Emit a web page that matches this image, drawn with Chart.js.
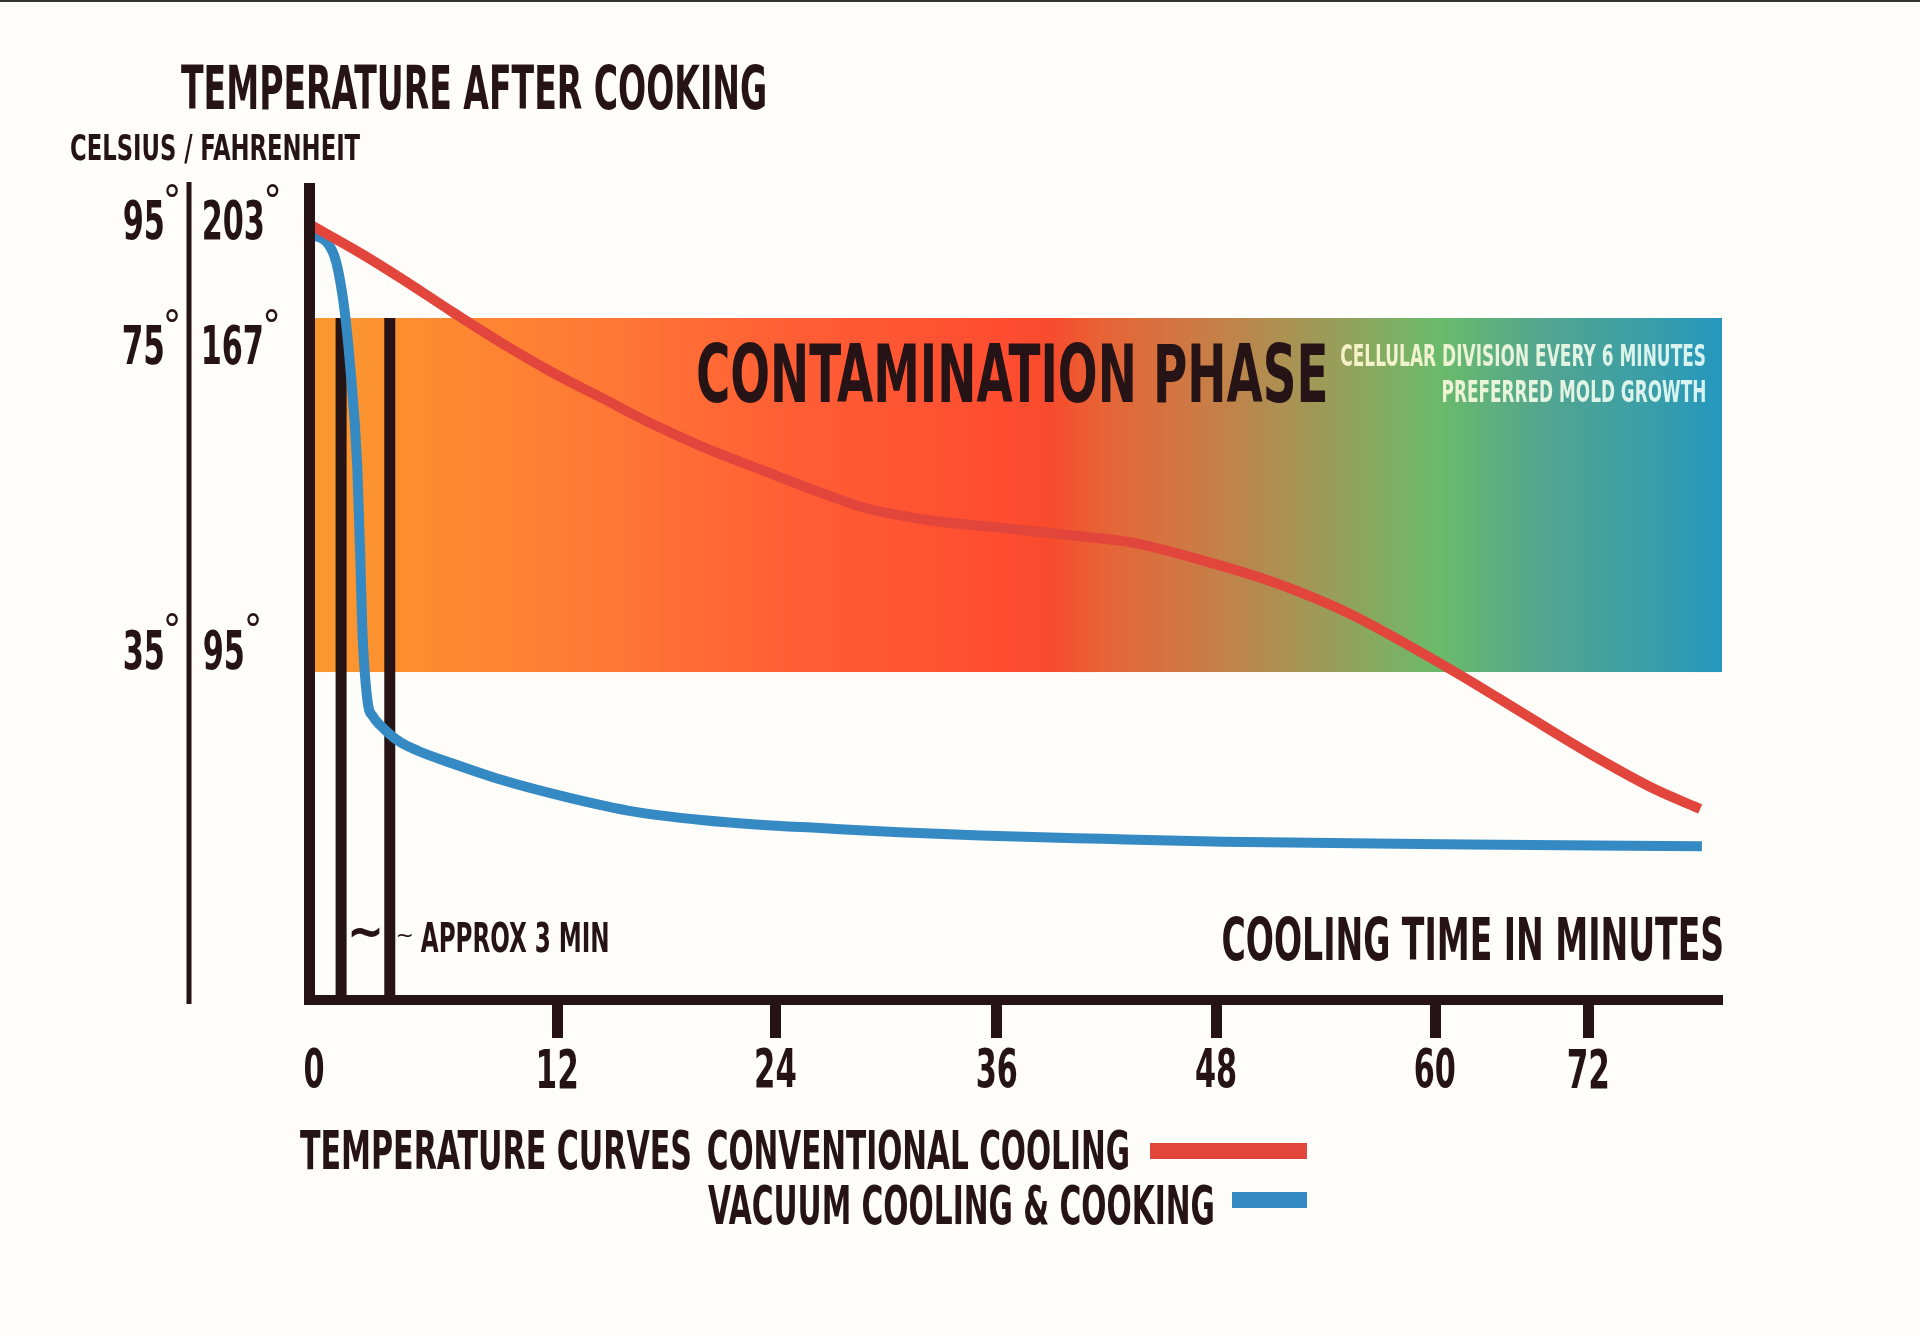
<!DOCTYPE html>
<html>
<head>
<meta charset="utf-8">
<title>Temperature after cooking</title>
<script src="https://cdn.jsdelivr.net/npm/chart.js@4.4.1/dist/chart.umd.min.js"></script>
<style>
  html, body { margin: 0; padding: 0; background: #fefdf9; overflow: hidden; }
  canvas { display: block; }
</style>
</head>
<body>
<canvas id="grafico-temperatura" width="1920" height="1336"></canvas>
<script>
// Chart data
const minuteTicks = [0, 12, 24, 36, 48, 60, 72];
const celsiusTicks = [95, 75, 35];
const fahrenheitTicks = [203, 167, 95];
const contaminationZone = [35, 75];
const approxWindow = [1.55, 3.9];

const conventionalMinutes = [0, 2.48, 4.42, 6.85, 9.28, 11.71, 14.4, 17.13, 19.9, 23.5, 26.4, 28.9, 32.5, 36.2, 39.8, 43.5, 47.1, 50.8, 53.7, 55.7, 61.7, 66.9, 72.1, 76.1, 78.7];
const conventionalTemps = [95, 88.8, 83.5, 76.5, 72.2, 68.9, 66.0, 63.1, 60.5, 57.6, 55.3, 53.5, 52.1, 51.3, 50.5, 49.6, 47.7, 45.4, 43.1, 41.2, 34.9, 30.6, 26.3, 22.4, 20.4];

const vacuumMinutes = [0, 1.17, 1.65, 1.99, 2.33, 2.48, 2.57, 2.82, 3.11, 3.45, 3.93, 4.42, 5.25, 6.85, 9.28, 12.6, 16.2, 19.9, 23.1, 26.4, 30.7, 35.1, 41.8, 48.4, 62.7, 78.8];
const vacuumTemps = [93.1, 88.8, 78.8, 69.5, 58.2, 47.7, 40.1, 32.0, 30.2, 29.3, 28.3, 27.5, 26.6, 25.3, 23.5, 21.6, 20.1, 19.2, 18.7, 18.35, 17.9, 17.55, 17.2, 16.9, 16.6, 16.4];

// the original drawing is not to scale, so both axes map values piecewise
const scaleStops = {
    x: [[0, 0], [12, 0.1759], [24, 0.3305], [36, 0.4869], [48, 0.6419], [60, 0.7969], [72, 0.9052], [80, 1]],
    y: [[0, 0], [35, 0.4039], [75, 0.8399], [95, 0.9557], [102.6, 1]]
};

class PiecewiseScale extends Chart.LinearScale {
    getPixelForValue(value) {
        const s = scaleStops[this.id];
        let i = 1;
        while (i < s.length - 1 && value > s[i][0]) i++;
        const [v0, f0] = s[i - 1];
        const [v1, f1] = s[i];
        return this.getPixelForDecimal(f0 + (value - v0) / (v1 - v0) * (f1 - f0));
    }
    getValueForPixel(pixel) {
        const d = this.getDecimalForPixel(pixel);
        const s = scaleStops[this.id];
        let i = 1;
        while (i < s.length - 1 && d > s[i][1]) i++;
        const [v0, f0] = s[i - 1];
        const [v1, f1] = s[i];
        return v0 + (d - f0) / (f1 - f0) * (v1 - v0);
    }
}
PiecewiseScale.id = 'piecewise';
PiecewiseScale.defaults = Chart.LinearScale.defaults;
Chart.register(PiecewiseScale);

const INK = '#261316';
const FONT = "'Liberation Sans Narrow', 'DejaVu Sans Condensed', sans-serif";
const DIGIT_SX = 0.64;

const bandColors = [
    [0, '#F99A2E'], [0.062, '#FC8F30'], [0.204, '#FF7935'], [0.346, '#FF5D35'],
    [0.488, '#FF4D30'], [0.523, '#F84A2C'], [0.559, '#E86235'], [0.63, '#CC7B45'],
    [0.715, '#9E9A58'], [0.799, '#6BBB6A'], [0.875, '#52A590'], [0.949, '#3A9EA8'], [1, '#2497BE']
];

// draws text so that its ink box starts at (x, top) and is h pixels tall
function inkText(ctx, str, x, top, h, o) {
    o = o || {};
    ctx.save();
    ctx.font = (o.weight || 'bold') + ' 100px ' + FONT;
    const m = ctx.measureText(str);
    const iw = m.actualBoundingBoxLeft + m.actualBoundingBoxRight;
    const ih = m.actualBoundingBoxAscent + m.actualBoundingBoxDescent;
    const ky = h / ih;
    const kx = o.w ? o.w / iw : ky * (o.sx || 1);
    const width = iw * kx;
    let left = x;
    if (o.align === 'right') left = x - width;
    else if (o.align === 'center') left = x - width / 2;
    ctx.translate(left, top);
    ctx.scale(kx, ky);
    if (o.fade) {
        const g = ctx.createLinearGradient(0, 0, iw, 0);
        g.addColorStop(0, o.fade[0]);
        g.addColorStop(1, o.fade[1]);
        ctx.fillStyle = g;
    } else {
        ctx.fillStyle = o.color || INK;
    }
    ctx.textAlign = 'left';
    ctx.textBaseline = 'alphabetic';
    ctx.fillText(str, m.actualBoundingBoxLeft, m.actualBoundingBoxAscent);
    ctx.restore();
    return width;
}

// Contamination band
const bandPlugin = {
    id: 'band',
    beforeDraw(chart) {
        const ctx = chart.ctx;
        ctx.save();
        ctx.fillStyle = '#fefdf9';
        ctx.fillRect(0, 0, chart.width, chart.height);
        ctx.fillStyle = '#333333';
        ctx.fillRect(0, 0, chart.width, 2);
        ctx.restore();
    },
    beforeDatasetsDraw(chart) {
        const { ctx, scales: { x, y } } = chart;
        const x0 = x.getPixelForValue(x.min);
        const x1 = x.getPixelForValue(x.max);
        const yTop = y.getPixelForValue(contaminationZone[1]);
        const yBot = y.getPixelForValue(contaminationZone[0]);
        const g = ctx.createLinearGradient(x0, 0, x1, 0);
        bandColors.forEach(([o, c]) => g.addColorStop(o, c));
        ctx.save();
        ctx.fillStyle = g;
        ctx.fillRect(x0, yTop, x1 - x0, yBot - yTop);
        ctx.restore();

        inkText(ctx, 'CONTAMINATION PHASE', 698, 342, 61, { w: 627 });
        inkText(ctx, 'CELLULAR DIVISION EVERY 6 MINUTES', 1705, 343, 23, { w: 364, align: 'right', fade: ['#F7F2C6', '#D5F3F3'] });
        inkText(ctx, 'PREFERRED MOLD GROWTH', 1705, 379, 23, { w: 262, align: 'right', fade: ['#EEF4D4', '#D5F3F3'] });
    }
};

// Titles, tick labels and legend
const labelNudge = [-24, 7, -43];
const textPlugin = {
    id: 'texts',
    afterDraw(chart) {
        const { ctx, chartArea, scales: { x, y } } = chart;

        inkText(ctx, 'TEMPERATURE AFTER COOKING', 181, 64, 46, { w: 584 });
        inkText(ctx, 'CELSIUS / FAHRENHEIT', 71, 133, 30, { w: 289 });

        ctx.save();
        ctx.fillStyle = INK;
        ctx.fillRect(186.5, chartArea.top - 6, 5, chartArea.bottom - chartArea.top + 10);
        ctx.restore();

        celsiusTicks.forEach((c, i) => {
            const top = y.getPixelForValue(c) + labelNudge[i];
            inkText(ctx, String(c), 163, top, 40, { sx: DIGIT_SX, align: 'right' });
            inkText(ctx, '°', 166, top - 15, 13, { w: 12, weight: 'normal' });
            const w = inkText(ctx, String(fahrenheitTicks[i]), 204, top, 40, { sx: DIGIT_SX });
            inkText(ctx, '°', 204 + w + 4, top - 15, 13, { w: 12, weight: 'normal' });
        });

        x.ticks.forEach(t => {
            inkText(ctx, String(t.value), x.getPixelForValue(t.value) + (t.value === 0 ? 5 : 0), 1048, 40, { sx: DIGIT_SX, align: 'center' });
        });

        const a = x.getPixelForValue(approxWindow[0]);
        const b = x.getPixelForValue(approxWindow[1]);
        inkText(ctx, '~', (a + b) / 2, 927, 11, { w: 28, align: 'center' });
        inkText(ctx, '~', b + 8, 933, 4, { w: 14, weight: 'normal' });
        inkText(ctx, 'APPROX 3 MIN', b + 31, 921, 31, { w: 187 });

        inkText(ctx, 'COOLING TIME IN MINUTES', 1722, 916, 45, { w: 499, align: 'right' });

        const [conv, vac] = chart.data.datasets;
        inkText(ctx, 'TEMPERATURE CURVES', 300, 1130, 40, { w: 390 });
        inkText(ctx, conv.label, 708, 1130, 40, { w: 420 });
        inkText(ctx, vac.label, 708, 1185, 40, { w: 505 });
        ctx.save();
        ctx.fillStyle = conv.borderColor;
        ctx.fillRect(1150, 1143, 157, 16);
        ctx.fillStyle = vac.borderColor;
        ctx.fillRect(1232, 1192, 75, 16);
        ctx.restore();
    }
};

const pontos = (xs, ys) => xs.map((m, i) => ({ x: m, y: ys[i] }));

const grafico = document.getElementById('grafico-temperatura').getContext('2d');
const chart = new Chart(grafico, {
    type: 'line',
    data: {
        datasets: [
            {
                label: 'CONVENTIONAL COOLING',
                data: pontos(conventionalMinutes, conventionalTemps),
                borderColor: '#E2453C',
                borderWidth: 10,
                pointRadius: 0,
                cubicInterpolationMode: 'monotone',
                borderCapStyle: 'butt'
            },
            {
                label: 'VACUUM COOLING & COOKING',
                data: pontos(vacuumMinutes, vacuumTemps),
                borderColor: '#368AC4',
                borderWidth: 10,
                pointRadius: 0,
                cubicInterpolationMode: 'monotone',
                borderCapStyle: 'butt'
            },
            ...approxWindow.map(m => ({
                label: 'approx window',
                data: [{ x: m, y: 0 }, { x: m, y: contaminationZone[1] }],
                borderColor: INK,
                borderWidth: 11,
                pointRadius: 0,
                borderCapStyle: 'butt'
            }))
        ]
    },
    options: {
        responsive: false,
        animation: false,
        devicePixelRatio: 1,
        layout: { padding: { left: 309, right: 198, top: 188, bottom: 236 } },
        plugins: {
            legend: { display: false },
            tooltip: { enabled: false }
        },
        scales: {
            x: {
                type: 'piecewise',
                min: 0,
                max: 80,
                bounds: 'data',
                afterBuildTicks: s => { s.ticks = minuteTicks.map(v => ({ value: v })); },
                afterFit: s => { s.height = 100; },
                border: { display: true, color: INK, width: 10, z: 1 },
                grid: {
                    display: true,
                    drawOnChartArea: false,
                    drawTicks: true,
                    tickLength: 38,
                    tickColor: INK,
                    tickWidth: c => (c.tick && c.tick.value === 0) ? 0 : 11
                },
                ticks: { display: false }
            },
            y: {
                type: 'piecewise',
                min: 0,
                max: 102.6,
                bounds: 'data',
                afterFit: s => { s.width = 0; },
                border: { display: true, color: INK, width: 11, z: 1 },
                grid: { display: false },
                ticks: { display: false }
            }
        }
    },
    plugins: [bandPlugin, textPlugin]
});
</script>
</body>
</html>
